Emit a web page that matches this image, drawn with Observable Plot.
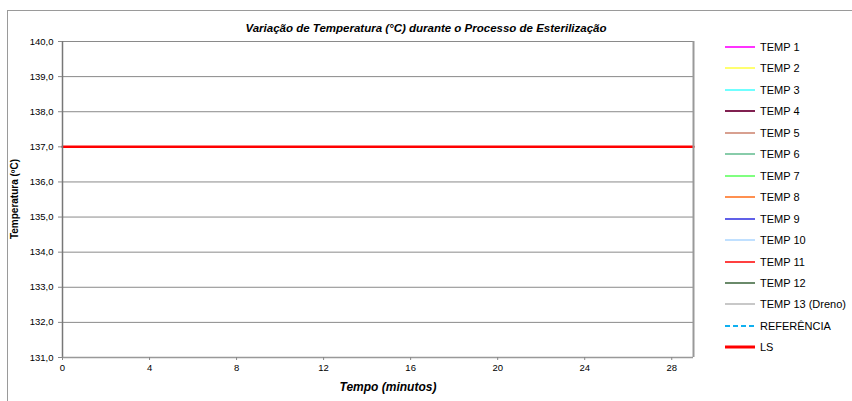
<!DOCTYPE html>
<html>
<head>
<meta charset="utf-8">
<script src="https://cdn.jsdelivr.net/npm/d3@7"></script>
<script src="https://cdn.jsdelivr.net/npm/@observablehq/plot@0.6"></script>
<style>
  html, body { margin: 0; padding: 0; background: #fff; }
  #wrap { position: relative; width: 852px; height: 401px; font-family: "Liberation Sans", Arial, sans-serif; overflow: hidden; }
  #wrap > svg { position: absolute; left: 0; top: 0; }
  .border-top { position: absolute; left: 7px; top: 10px; width: 845px; height: 0; border-top: 1px solid #9a9a9a; }
  .border-left { position: absolute; left: 7px; top: 10px; width: 0; height: 391px; border-left: 1px solid #9a9a9a; }
  .title { position: absolute; left: 0; top: 22px; width: 852px; text-align: center; font-size: 11.5px; font-weight: bold; font-style: italic; color: #000; }
  .xlabel { position: absolute; left: 288px; top: 380px; width: 200px; text-align: center; font-size: 12px; font-weight: bold; font-style: italic; color: #000; }
  .ylabel { position: absolute; left: 14px; top: 199px; transform: translate(-50%, -50%) rotate(-90deg); font-size: 10px; font-weight: bold; white-space: nowrap; color: #000; }
  .legend { position: absolute; left: 724px; top: 40px; }
  .item { position: absolute; left: 0; height: 14px; white-space: nowrap; font-size: 11px; color: #000; }
  .item svg { position: absolute; left: 0; top: 0; }
  .item span { position: absolute; left: 36px; top: 0; line-height: 14px; }
</style>
</head>
<body>
<div id="wrap">
  <div class="border-top"></div>
  <div class="border-left"></div>
</div>
<script>
// ---- data ----
const titulo = "Variação de Temperatura (°C) durante o Processo de Esterilização";
const rotuloX = "Tempo (minutos)";
const rotuloY = "Temperatura (ºC)";
const dominioX = [0, 29];
const dominioY = [131, 140];
const ticksX = [0, 4, 8, 12, 16, 20, 24, 28];
const ticksY = [131, 132, 133, 134, 135, 136, 137, 138, 139, 140];
const series = ["TEMP 1", "TEMP 2", "TEMP 3", "TEMP 4", "TEMP 5", "TEMP 6", "TEMP 7", "TEMP 8", "TEMP 9", "TEMP 10", "TEMP 11", "TEMP 12", "TEMP 13 (Dreno)", "REFERÊNCIA", "LS"];
const cores = ["#ff33ff", "#ffff70", "#70ffff", "#802050", "#d8a090", "#88ccaa", "#80ff80", "#ff9050", "#6060e8", "#c0e0ff", "#ff4040", "#6a8a6a", "#c8c8c8", "#10b0f0", "#ff0000"];
const espessuras = [2, 2, 2, 2, 2, 2, 2, 2, 2, 2, 2, 2, 2, 2, 3];
const tracejados = [null, null, null, null, null, null, null, null, null, null, null, null, null, "5,3", null];
// LS (limite) series: constant value along the time axis
const lsTempo = [0, 29];
const lsValor = [137, 137];

const lsDados = lsTempo.map((t, i) => ({tempo: t, valor: lsValor[i]}));
const fmt = v => d3.format(".1f")(v).replace(".", ",");

const chart = Plot.plot({
  width: 852,
  height: 401,
  marginLeft: 62,
  marginRight: 159,
  marginTop: 41,
  marginBottom: 44,
  style: { fontFamily: "Liberation Sans, Arial, sans-serif", fontSize: "9.5px", color: "#000", background: "transparent" },
  x: { domain: dominioX, ticks: ticksX, label: null },
  y: { domain: dominioY, ticks: ticksY, label: null, tickFormat: fmt },
  marks: [
    Plot.ruleY(ticksY, { stroke: "#8a8a8a", strokeWidth: 1 }),
    Plot.line(lsDados, { x: "tempo", y: "valor", stroke: cores[14], strokeWidth: 2.5 }),
    Plot.ruleX([dominioX[0]], { stroke: "#777", strokeWidth: 1.5 }),
    Plot.ruleX([dominioX[1]], { stroke: "#999", strokeWidth: 2 }),
    Plot.ruleY([dominioY[0]], { stroke: "#999", strokeWidth: 1.5 }),
    Plot.axisX({ ticks: ticksX, tickSize: 3, tickPadding: 4, stroke: "#888" }),
    Plot.axisY({ ticks: ticksY, tickFormat: fmt, tickSize: 4, tickPadding: 5, stroke: "#888" })
  ]
});

const wrap = document.getElementById("wrap");
wrap.appendChild(chart);

const t = document.createElement("div"); t.className = "title"; t.textContent = titulo; wrap.appendChild(t);
const xl = document.createElement("div"); xl.className = "xlabel"; xl.textContent = rotuloX; wrap.appendChild(xl);
const yl = document.createElement("div"); yl.className = "ylabel"; yl.textContent = rotuloY; wrap.appendChild(yl);

const leg = document.createElement("div"); leg.className = "legend"; wrap.appendChild(leg);
series.forEach((s, i) => {
  const it = document.createElement("div");
  it.className = "item";
  it.style.top = (i * 21.45) + "px";
  const ns = "http://www.w3.org/2000/svg";
  const sv = document.createElementNS(ns, "svg");
  sv.setAttribute("width", 32); sv.setAttribute("height", 14);
  const ln = document.createElementNS(ns, "line");
  ln.setAttribute("x1", 1); ln.setAttribute("x2", 31); ln.setAttribute("y1", 7); ln.setAttribute("y2", 7);
  ln.setAttribute("stroke", cores[i]); ln.setAttribute("stroke-width", espessuras[i]);
  if (tracejados[i]) ln.setAttribute("stroke-dasharray", tracejados[i]);
  sv.appendChild(ln);
  it.appendChild(sv);
  const sp = document.createElement("span"); sp.textContent = s; it.appendChild(sp);
  leg.appendChild(it);
});
</script>
</body>
</html>
